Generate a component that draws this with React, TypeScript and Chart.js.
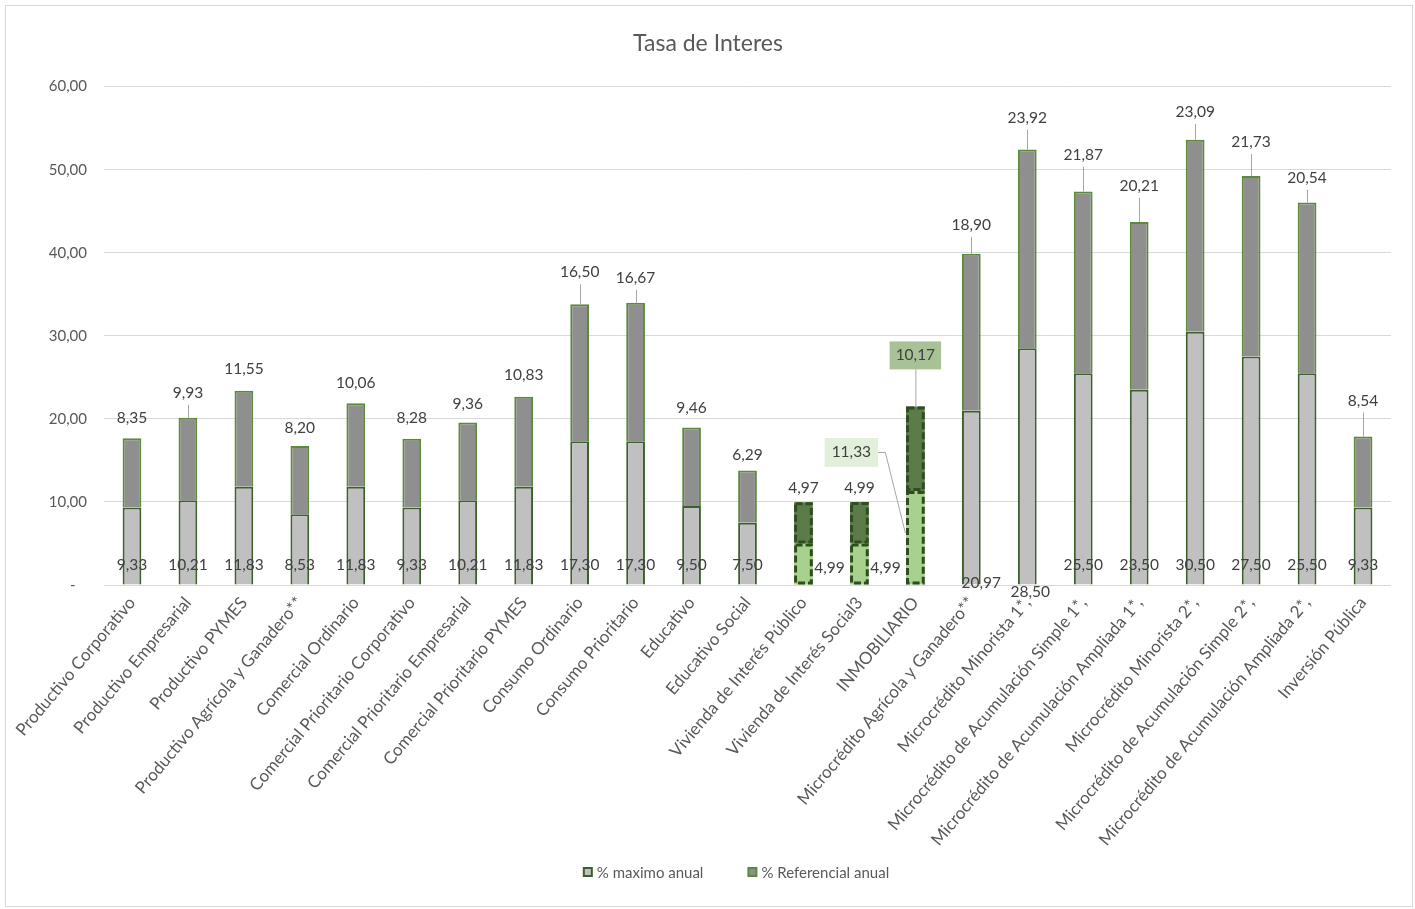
import React, { useEffect, useRef } from "react";
import { Chart, registerables } from "chart.js";

Chart.register(...registerables);

// ---------- DATA ----------
const categories: string[] = [
  "Productivo Corporativo",
  "Productivo Empresarial",
  "Productivo PYMES",
  "Productivo Agrícola y Ganadero**",
  "Comercial Ordinario",
  "Comercial Prioritario Corporativo",
  "Comercial Prioritario Empresarial",
  "Comercial Prioritario PYMES",
  "Consumo Ordinario",
  "Consumo Prioritario",
  "Educativo",
  "Educativo Social",
  "Vivienda de Interés Público",
  "Vivienda de Interés Social3",
  "INMOBILIARIO",
  "Microcrédito Agrícola y Ganadero**",
  "Microcrédito Minorista 1*,",
  "Microcrédito de Acumulación Simple 1*,",
  "Microcrédito de Acumulación Ampliada 1*,",
  "Microcrédito Minorista 2*,",
  "Microcrédito de Acumulación Simple 2*,",
  "Microcrédito de Acumulación Ampliada 2*,",
  "Inversión Pública",
];

const maximoAnual: number[] = [
  9.33, 10.21, 11.83, 8.53, 11.83, 9.33, 10.21, 11.83, 17.3, 17.3, 9.5, 7.5,
  4.99, 4.99, 11.33, 20.97, 28.5, 25.5, 23.5, 30.5, 27.5, 25.5, 9.33,
];

const referencialAnual: number[] = [
  8.35, 9.93, 11.55, 8.2, 10.06, 8.28, 9.36, 10.83, 16.5, 16.67, 9.46, 6.29,
  4.97, 4.99, 10.17, 18.9, 23.92, 21.87, 20.21, 23.09, 21.73, 20.54, 8.54,
];

const seriesNames: string[] = ["% maximo anual", "% Referencial anual"];
const titleText = "Tasa de Interes";
const yMin = 0;
const yMax = 60;
const yStep = 10;

// ---------- STYLE ----------
const FONT = "Lato, 'Noto Sans', sans-serif";
const TEXT = "#595959";
const LABEL = "#404040";
const GRAY_LIGHT = "#c0c0c0";
const GRAY_DARK = "#8f8f8f";
const GREEN_BOTTOM_BORDER = "#3d5f2c";
const GREEN_TOP_BORDER = "#5b8a3b";
const SPECIAL_LIGHT = "#a9d18e";
const SPECIAL_DARK = "#5b7b48";
const SPECIAL_BORDER = "#2f4d20";
const specialBars: number[] = [12, 13, 14];
const LABEL_SIZE = 15.5;

// label placement (pixels above the bar top for the upper-segment labels)
const topLabelLift: number[] = [
  20, 25, 22, 18, 20, 21, 18, 22, 32, 25, 20, 15, 14, 14, 51, 29, 32, 37, 36,
  28, 34, 25, 36,
];
// offsets for lower-segment labels (dx, dy) in pixels
const bottomLabelShift: Record<number, [number, number]> = {
  12: [26, 3],
  13: [26, 3],
  15: [10, 18],
  16: [3, 27],
};

const fmt = (v: number) => v.toFixed(2).replace(".", ",");

const labelsPlugin = {
  id: "barLabels",
  afterDatasetsDraw(chart: any) {
    const ctx: CanvasRenderingContext2D = chart.ctx;
    const m0 = chart.getDatasetMeta(0);
    const m1 = chart.getDatasetMeta(1);
    const basePx = chart.scales.y.getPixelForValue(0);
    ctx.save();

    // dashed outlines for highlighted bars
    for (const i of specialBars) {
      for (const m of [m0, m1]) {
        const el = m.data[i];
        const p = el.getProps(["x", "y", "base", "width"], true);
        const left = p.x - p.width / 2;
        const top = Math.min(p.y, p.base);
        const h = Math.abs(p.base - p.y);
        ctx.setLineDash([7, 3]);
        ctx.lineWidth = 3;
        ctx.strokeStyle = SPECIAL_BORDER;
        ctx.strokeRect(left + 1.5, top + 1.5, p.width - 3, h - 3);
      }
    }
    ctx.setLineDash([]);

    ctx.font = `${LABEL_SIZE}px ${FONT}`;
    ctx.textAlign = "center";
    ctx.textBaseline = "middle";

    for (let i = 0; i < categories.length; i++) {
      const e1 = m1.data[i].getProps(["x", "y"], true);
      const lift = topLabelLift[i];
      const ly = e1.y - lift;
      const txt = fmt(referencialAnual[i]);
      if (i === 14) {
        const w = ctx.measureText(txt).width + 12;
        ctx.fillStyle = "#a8c197";
        ctx.fillRect(e1.x - w / 2, ly - 14, w, 28);
        ctx.strokeStyle = "#a6a6a6";
        ctx.lineWidth = 1;
        ctx.beginPath();
        ctx.moveTo(e1.x + 0.5, ly + 14);
        ctx.lineTo(e1.x + 0.5, e1.y);
        ctx.stroke();
      } else if (lift >= 25) {
        ctx.strokeStyle = "#a6a6a6";
        ctx.lineWidth = 1;
        ctx.beginPath();
        ctx.moveTo(Math.round(e1.x) + 0.5, ly + 12);
        ctx.lineTo(Math.round(e1.x) + 0.5, e1.y);
        ctx.stroke();
      }
      ctx.fillStyle = LABEL;
      ctx.fillText(txt, e1.x, ly);

      // lower segment label
      const e0 = m0.data[i].getProps(["x", "y"], true);
      const btxt = fmt(maximoAnual[i]);
      if (i === 14) {
        const bx = e0.x - 64;
        const by = basePx - 133;
        const w = ctx.measureText(btxt).width + 14;
        ctx.fillStyle = "#e2efda";
        ctx.fillRect(bx - w / 2, by - 14, w, 29);
        ctx.strokeStyle = "#a6a6a6";
        ctx.lineWidth = 1;
        ctx.beginPath();
        ctx.moveTo(bx + w / 2, by + 0.5);
        ctx.lineTo(e0.x - 30, by + 0.5);
        ctx.lineTo(e0.x - 10, basePx - 52);
        ctx.stroke();
        ctx.fillStyle = LABEL;
        ctx.fillText(btxt, bx, by);
      } else {
        const sh = bottomLabelShift[i] || [0, 0];
        ctx.fillStyle = LABEL;
        ctx.fillText(btxt, e0.x + sh[0], basePx - 20 + sh[1]);
      }
    }
    ctx.restore();
  },
  afterDraw(chart: any) {
    // legend
    const ctx: CanvasRenderingContext2D = chart.ctx;
    ctx.save();
    ctx.font = `15px ${FONT}`;
    ctx.textBaseline = "middle";
    ctx.textAlign = "left";
    const cy = 866;
    const fills = [GRAY_LIGHT, GRAY_DARK];
    const borders = [GREEN_BOTTOM_BORDER, GREEN_TOP_BORDER];
    const w0 = ctx.measureText(seriesNames[0]).width;
    const w1 = ctx.measureText(seriesNames[1]).width;
    const gap = 44;
    const total = 14 + w0 + gap + 14 + w1;
    let x = 730 - total / 2;
    for (let k = 0; k < 2; k++) {
      ctx.fillStyle = borders[k];
      ctx.fillRect(x, cy - 5, 10, 10);
      ctx.fillStyle = fills[k];
      ctx.fillRect(x + 2, cy - 3, 6, 6);
      ctx.fillStyle = TEXT;
      ctx.fillText(seriesNames[k], x + 14, cy + 1);
      x += 14 + (k === 0 ? w0 : w1) + gap;
    }
    ctx.restore();
  },
};

export default function App() {
  const canvasRef = useRef<HTMLCanvasElement | null>(null);

  useEffect(() => {
    if (!canvasRef.current) return;
    const bgBottom = categories.map((_, i) =>
      specialBars.includes(i) ? SPECIAL_LIGHT : GRAY_LIGHT
    );
    const bgTop = categories.map((_, i) =>
      specialBars.includes(i) ? SPECIAL_DARK : GRAY_DARK
    );
    const bw = categories.map((_, i) => (specialBars.includes(i) ? 0 : 2));

    const chart = new Chart(canvasRef.current, {
      type: "bar",
      data: {
        labels: categories,
        datasets: [
          {
            label: seriesNames[0],
            data: maximoAnual,
            backgroundColor: bgBottom,
            borderColor: GREEN_BOTTOM_BORDER,
            borderWidth: bw,
            barPercentage: 0.335,
            categoryPercentage: 1,
          },
          {
            label: seriesNames[1],
            data: referencialAnual,
            backgroundColor: bgTop,
            borderColor: GREEN_TOP_BORDER,
            borderWidth: bw,
            barPercentage: 0.335,
            categoryPercentage: 1,
          },
        ],
      },
      options: {
        responsive: false,
        animation: false,
        devicePixelRatio: 1,
        layout: { padding: { left: 19, right: 21, top: 0, bottom: 40 } },
        plugins: {
          legend: { display: false },
          tooltip: { enabled: false },
          title: {
            display: true,
            text: titleText,
            color: TEXT,
            font: { family: FONT, size: 23, weight: "normal" },
            padding: { top: 24, bottom: 29 },
          },
        },
        scales: {
          x: {
            stacked: true,
            grid: { display: false },
            border: { display: false },
            ticks: {
              color: TEXT,
              font: { family: FONT, size: 17 },
              minRotation: 50,
              maxRotation: 50,
              autoSkip: false,
              padding: 0,
            },
            afterFit: (s: any) => {
              s.height = 281;
            },
          },
          y: {
            stacked: true,
            min: yMin,
            max: yMax,
            grid: { color: "#d9d9d9", lineWidth: 1, drawTicks: false },
            border: { display: false },
            ticks: {
              stepSize: yStep,
              color: TEXT,
              padding: 17,
              font: { family: FONT, size: 15 },
              callback: (v: any) => (Number(v) === 0 ? "-   " : fmt(Number(v))),
            },
            afterFit: (s: any) => {
              s.width = 79;
            },
          },
        },
      },
      plugins: [labelsPlugin],
    });
    return () => chart.destroy();
  }, []);

  return (
    <div
      style={{
        position: "absolute",
        left: 5,
        top: 5,
        width: 1406,
        height: 900,
        border: "1px solid #d9d9d9",
        background: "#fff",
      }}
    >
      <canvas ref={canvasRef} width={1406} height={900} />
    </div>
  );
}
